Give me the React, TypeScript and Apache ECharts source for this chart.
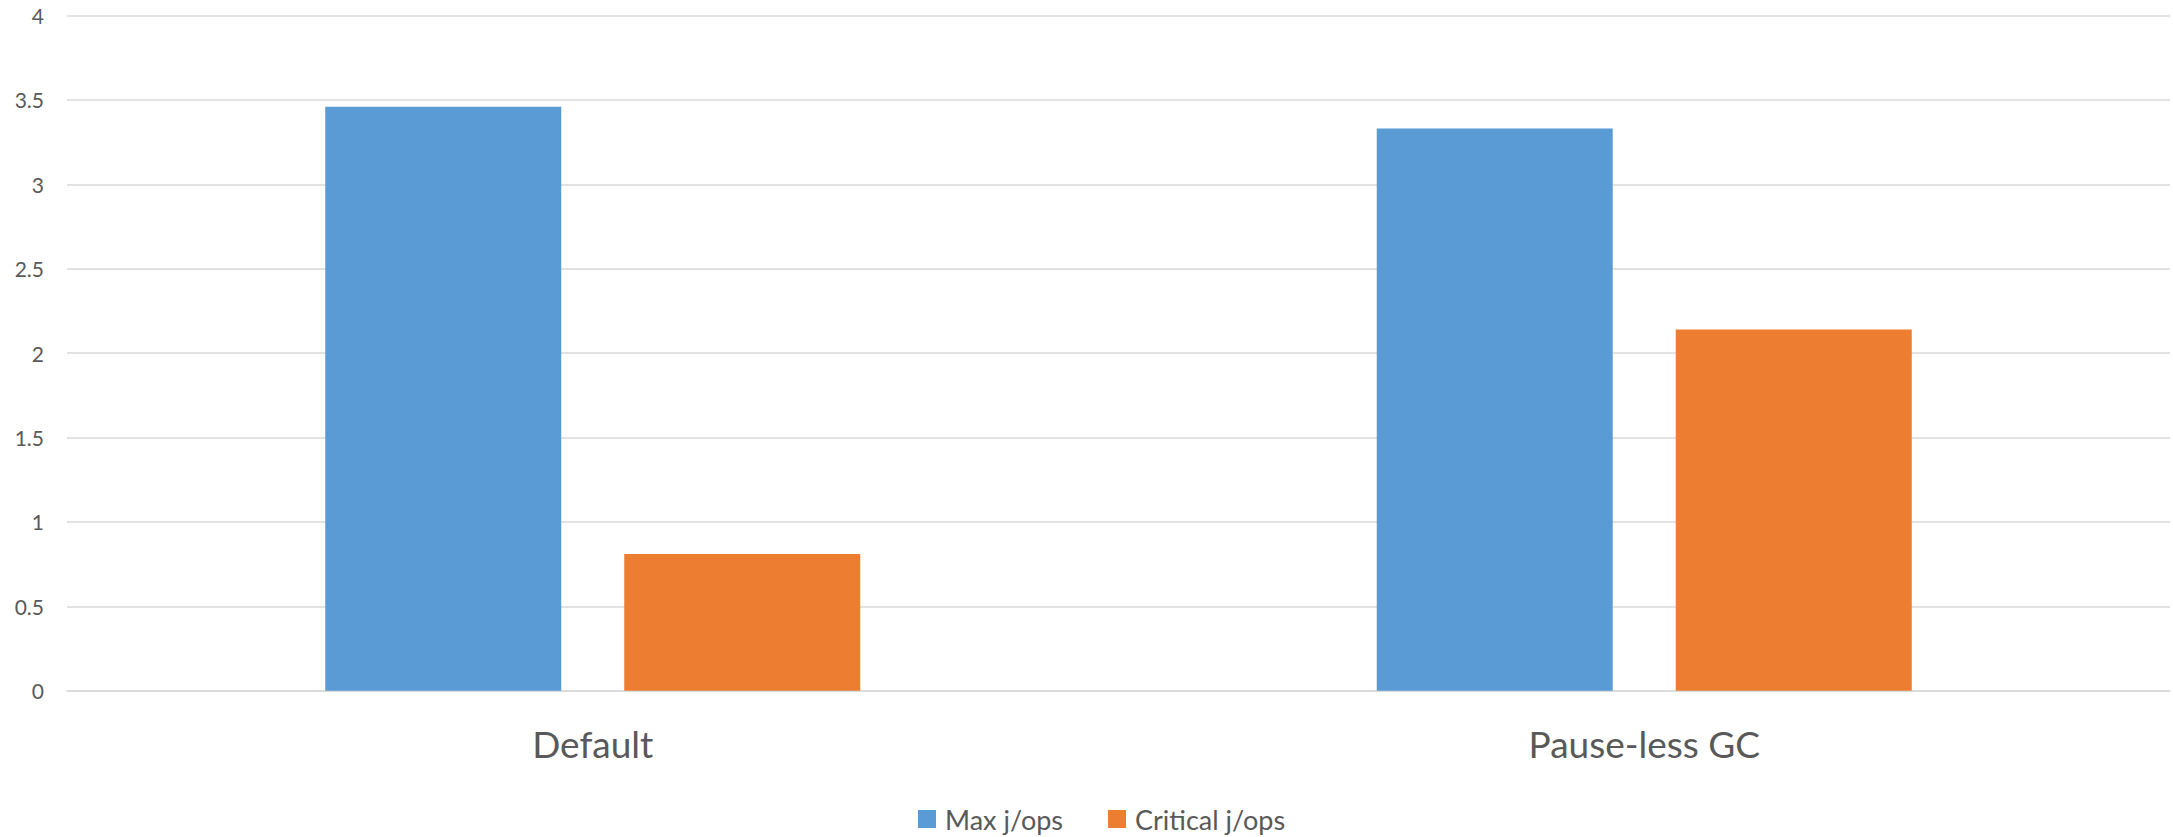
import React, { useEffect, useRef } from "react";
import * as echarts from "echarts";

const categories = ["Default", "Pause-less GC"];
const maxJops = [3.46, 3.33];
const criticalJops = [0.81, 2.14];
const seriesNames = ["Max j/ops", "Critical j/ops"];

export default function App() {
  const ref = useRef<HTMLDivElement>(null);
  useEffect(() => {
    if (!ref.current) return;
    const chart = echarts.init(ref.current, undefined, { renderer: "svg" });
    const font = "Lato, 'Open Sans', sans-serif";
    chart.setOption({
      animation: false,
      backgroundColor: "#ffffff",
      color: ["#5B9BD5", "#ED7D31"],
      grid: { left: 67, right: 3, top: 15.5, bottom: 837 - 690.7, containLabel: false },
      legend: {
        data: seriesNames,
        left: 918,
        top: 805,
        padding: 0,
        itemWidth: 18,
        itemHeight: 18,
        itemGap: 45,
        icon: "rect",
        textStyle: { color: "#595959", fontSize: 27, fontFamily: font, lineHeight: 28, padding: [0, 0, 0, 4] },
      },
      xAxis: {
        type: "category",
        data: categories,
        axisLine: { lineStyle: { color: "#D9D9D9", width: 1.5 } },
        axisTick: { show: false },
        axisLabel: { color: "#595959", fontSize: 37, fontFamily: font, margin: 34 },
      },
      yAxis: {
        type: "value",
        min: 0,
        max: 4,
        interval: 0.5,
        axisLine: { show: false },
        axisTick: { show: false },
        splitLine: { lineStyle: { color: "#D9D9D9", width: 1.5 } },
        axisLabel: { color: "#595959", fontSize: 21, fontFamily: font, margin: 23 },
      },
      series: [
        { name: seriesNames[0], type: "bar", data: maxJops, barWidth: 236, barGap: "26.7%" },
        { name: seriesNames[1], type: "bar", data: criticalJops, barWidth: 236, barGap: "26.7%" },
      ],
    });
    return () => chart.dispose();
  }, []);
  return (
    <div
      ref={ref}
      style={{ position: "fixed", left: 0, top: 0, width: 2173, height: 837, background: "#fff" }}
    />
  );
}
